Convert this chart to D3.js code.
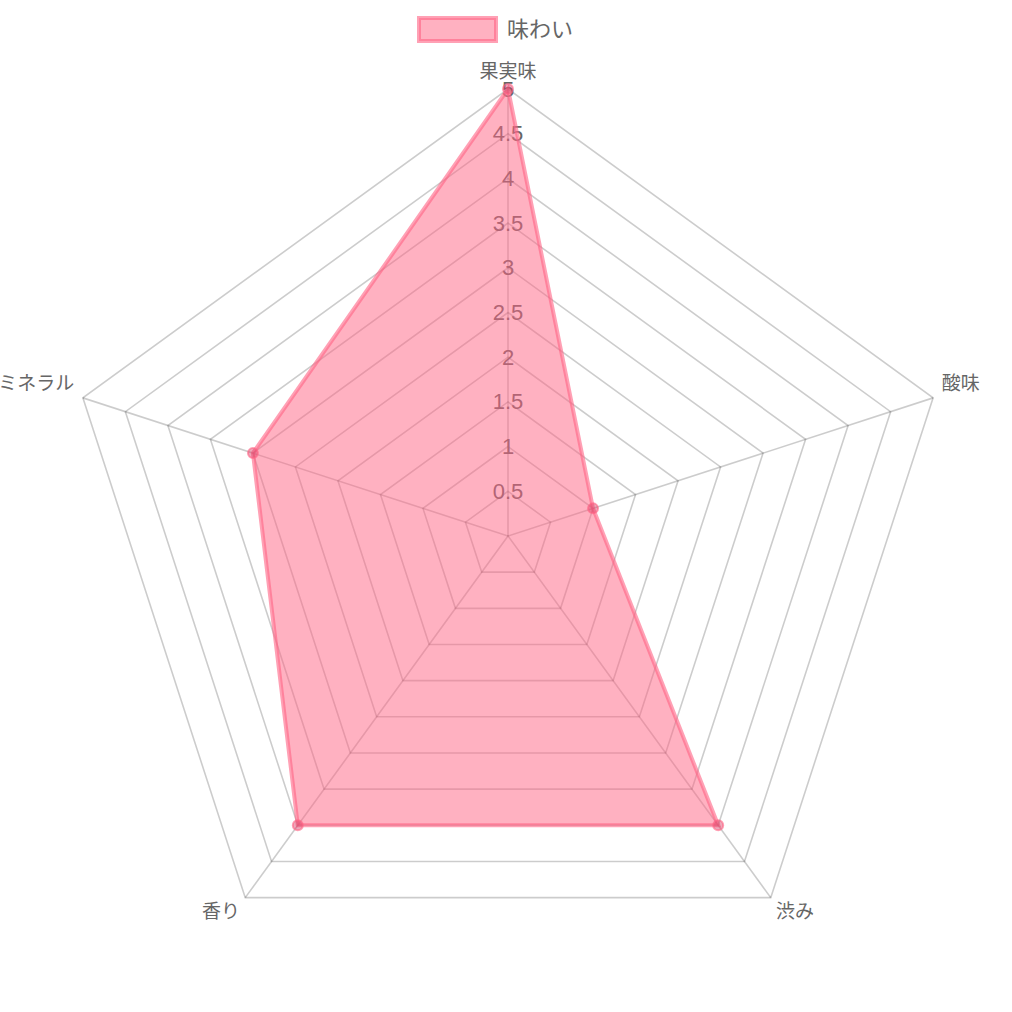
<!DOCTYPE html>
<html><head><meta charset="utf-8">
<script src="https://cdn.jsdelivr.net/npm/d3@7"></script>
<style>html,body{margin:0;padding:0;background:#fff;}</style>
</head><body>
<svg id="c" width="1012" height="1012"></svg>
<script>
const categories = ["果実味", "酸味", "渋み", "香り", "ミネラル"];
const seriesName = "味わい";
const values = [5, 1, 4, 4, 3];
const tickValues = [0.5, 1, 1.5, 2, 2.5, 3, 3.5, 4, 4.5, 5];
const tickLabels = ["0.5", "1", "1.5", "2", "2.5", "3", "3.5", "4", "4.5", "5"];

const FONT = '"Liberation Sans", "Noto Sans CJK JP", Arial, sans-serif';
const cx = 508, cy = 536, R = 447;
const svg = d3.select("#c");
const r = d3.scaleLinear().domain([0, 5]).range([0, R]);
const angleOf = (c) => -Math.PI / 2 + categories.indexOf(c) * 2 * Math.PI / categories.length;
const pt = (c, v) => [cx + r(v) * Math.cos(angleOf(c)), cy + r(v) * Math.sin(angleOf(c))];

const grid = svg.append("g");
tickValues.forEach(t => {
  grid.append("polygon")
    .attr("points", categories.map(c => pt(c, t).join(",")).join(" "))
    .attr("fill", "none").attr("stroke", "rgba(0,0,0,0.2)").attr("stroke-width", 1.6);
});
categories.forEach(c => {
  const [x, y] = pt(c, 5);
  grid.append("line").attr("x1", cx).attr("y1", cy).attr("x2", x).attr("y2", y)
    .attr("stroke", "rgba(0,0,0,0.2)").attr("stroke-width", 1.6);
});
tickValues.forEach((t, i) => {
  svg.append("text").attr("x", cx).attr("y", cy - r(t))
    .attr("text-anchor", "middle").attr("dominant-baseline", "central")
    .attr("font-family", FONT).attr("font-size", 22).attr("fill", "#666")
    .text(tickLabels[i]);
});
categories.forEach(c => {
  const [x, y] = pt(c, 5 * (R + 9) / R);
  const cosA = Math.cos(angleOf(c));
  const anchor = Math.abs(cosA) < 0.01 ? "middle" : (cosA > 0 ? "start" : "end");
  const sinA = Math.sin(angleOf(c));
  const dy = sinA < -0.99 ? -9 : (sinA < 0 ? -12 : 7);
  svg.append("text").attr("x", x).attr("y", y + dy)
    .attr("text-anchor", anchor).attr("dominant-baseline", "central")
    .attr("font-family", FONT).attr("font-size", 19).attr("fill", "#666")
    .text(c);
});
svg.append("polygon")
  .attr("points", categories.map((c, i) => pt(c, values[i]).join(",")).join(" "))
  .attr("fill", "rgba(255,99,132,0.5)")
  .attr("stroke", "rgba(255,99,132,0.6)").attr("stroke-width", 4).attr("stroke-linejoin", "miter");
categories.forEach((c, i) => {
  const [x, y] = pt(c, values[i]);
  svg.append("circle").attr("cx", x).attr("cy", y).attr("r", 5)
    .attr("fill", "rgba(220,60,100,0.45)").attr("stroke", "rgba(255,99,132,0.6)").attr("stroke-width", 2);
});
svg.append("rect").attr("x", 419).attr("y", 18).attr("width", 77).attr("height", 23)
  .attr("fill", "rgba(255,99,132,0.5)").attr("stroke", "rgba(255,99,132,0.6)").attr("stroke-width", 4);
svg.append("text").attr("x", 507).attr("y", 29).attr("dominant-baseline", "central")
  .attr("font-family", FONT).attr("font-size", 22).attr("fill", "#666").text(seriesName);
</script>
</body></html>
